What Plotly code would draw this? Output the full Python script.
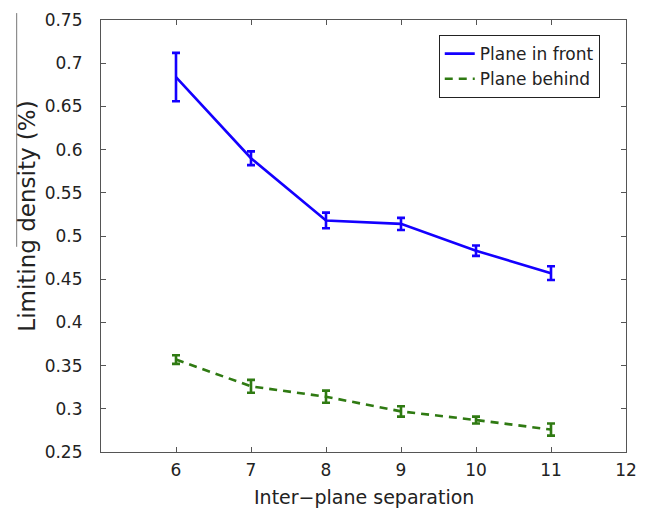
import plotly.graph_objects as go

separation = [6, 7, 8, 9, 10, 11]

front_mean = [0.684, 0.590, 0.518, 0.514, 0.483, 0.457]
front_err = [0.028, 0.008, 0.009, 0.007, 0.006, 0.008]

behind_mean = [0.357, 0.326, 0.314, 0.297, 0.287, 0.276]
behind_err = [0.005, 0.0075, 0.007, 0.006, 0.004, 0.007]

x_ticks = [6, 7, 8, 9, 10, 11, 12]
y_ticks = [0.25, 0.3, 0.35, 0.4, 0.45, 0.5, 0.55, 0.6, 0.65, 0.7, 0.75]

blue = '#1400ff'
green = '#2f7a12'
font_name = 'DejaVu Sans, sans-serif'

fig = go.Figure()
fig.add_trace(go.Scatter(
    x=separation, y=front_mean, mode='lines', name='Plane in front',
    line=dict(color=blue, width=2.6),
    error_y=dict(type='data', array=front_err, color=blue, thickness=2.6, width=4)))
fig.add_trace(go.Scatter(
    x=separation, y=behind_mean, mode='lines', name='Plane behind',
    line=dict(color=green, width=2.6, dash='8px,6px'),
    error_y=dict(type='data', array=behind_err, color=green, thickness=2.6, width=4)))

axis_style = dict(showline=True, linecolor='#555555', linewidth=1.2, mirror='ticks',
                  ticks='inside', ticklen=5, tickcolor='#555555', showgrid=False,
                  zeroline=False, automargin=False,
                  tickfont=dict(size=17, color='#222222', family=font_name))

fig.update_xaxes(range=[5, 12], tickvals=x_ticks, ticklabelstandoff=2, **axis_style)
fig.update_yaxes(range=[0.25, 0.75], tickvals=y_ticks,
                 ticktext=[('%g' % v) for v in y_ticks], ticklabelstandoff=14, **axis_style)

# the page body has an 8px margin, so the figure is 8px smaller than the window
fig.update_layout(
    width=639, height=503,
    margin=dict(l=93, r=21, t=12, b=59),
    plot_bgcolor='white', paper_bgcolor='white',
    font=dict(family=font_name, color='#222222'),
    showlegend=True,
    legend=dict(x=0.950, y=0.965, xanchor='right', yanchor='top',
                bgcolor='white', bordercolor='#222222', borderwidth=1,
                font=dict(size=17), tracegroupgap=0),
    annotations=[
        dict(text='Inter\u2212plane separation', xref='paper', yref='paper',
             x=0.5, y=0.0, yshift=-45, xanchor='center', yanchor='middle',
             showarrow=False, font=dict(size=19)),
        dict(text='Limiting density (%)', xref='paper', yref='paper',
             x=-0.141, y=0.547, textangle=-90, xanchor='center', yanchor='middle',
             showarrow=False, font=dict(size=23)),
    ],
    shapes=[
        dict(type='line', xref='paper', yref='paper', x0=-0.1606, x1=-0.1606,
             y0=1.016, y1=0.475, line=dict(color='#777777', width=1)),
    ],
)

fig.write_html('out.html')
